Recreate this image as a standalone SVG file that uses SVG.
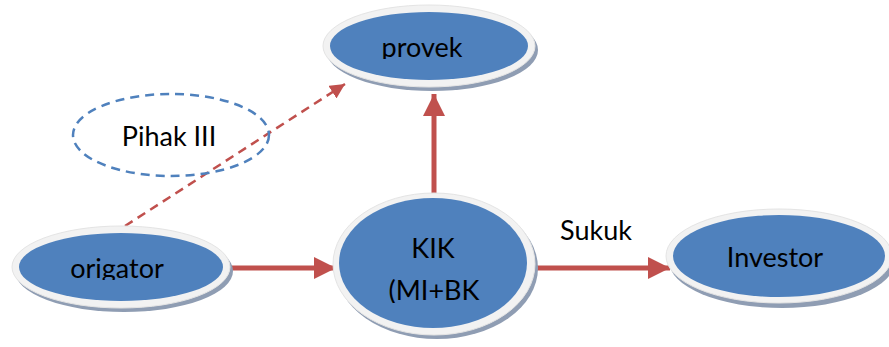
<svg xmlns="http://www.w3.org/2000/svg" width="889" height="347" viewBox="0 0 889 347">
<style>
.shadow{fill:#8f9db3}
.rim{fill:#f2f2f2;stroke:#e4e4e4;stroke-width:1}
.body{fill:#4f81bd}
.lbl{font-family:Lato,"Open Sans","Liberation Sans",sans-serif;font-size:27px;fill:#000;text-anchor:middle}
.solid{stroke:#c0504d;stroke-width:5;fill:none}
.dash{stroke:#c0504d;stroke-width:2.5;stroke-dasharray:9,6;fill:none}
</style>
<defs>
<marker id="ah" viewBox="0 0 10 10" refX="10" refY="5" markerWidth="4.4" markerHeight="4.4" markerUnits="strokeWidth" orient="auto">
<path d="M0,0 L10,5 L0,10 z" fill="#c0504d"/>
</marker>
<marker id="ahs" viewBox="0 0 10 10" refX="10" refY="5" markerWidth="6" markerHeight="6" markerUnits="strokeWidth" orient="auto">
<path d="M0,0 L10,5 L0,10 z" fill="#c0504d"/>
</marker>
<clipPath id="cp1"><rect x="330" y="20" width="200" height="39"/></clipPath>
<clipPath id="cp2"><rect x="20" y="240" width="204" height="40"/></clipPath>
<clipPath id="cp3"><rect x="340" y="270" width="190" height="33"/></clipPath>
</defs>
<g id="connectors">
<path class="solid" d="M229,268 L336,268" marker-end="url(#ah)"/>
<path class="solid" d="M531,268 L670,268" marker-end="url(#ah)"/>
<path class="solid" d="M434,196 L434,94" marker-end="url(#ah)"/>
<path class="dash" d="M125,226 L345,84" marker-end="url(#ahs)"/>
<text class="lbl" x="596" y="240">Sukuk</text>
</g>
<g id="provek">
<ellipse class="shadow" cx="432" cy="50" rx="106" ry="41"/>
<ellipse class="rim" cx="429" cy="46" rx="106" ry="41"/>
<ellipse class="body" cx="429" cy="46" rx="99" ry="34"/>
<text class="lbl" x="422" y="57" clip-path="url(#cp1)">provek</text>
</g>
<g id="pihak">
<ellipse cx="171" cy="135" rx="98" ry="41" fill="none" stroke="#4f81bd" stroke-width="2.5" stroke-dasharray="9,6"/>
<text class="lbl" x="169" y="146">Pihak III</text>
</g>
<g id="origator">
<ellipse class="shadow" cx="124" cy="271" rx="109" ry="41"/>
<ellipse class="rim" cx="121" cy="267" rx="109" ry="41"/>
<ellipse class="body" cx="121" cy="267" rx="102" ry="34"/>
<text class="lbl" x="117" y="278" clip-path="url(#cp2)">origator</text>
</g>
<g id="kik">
<ellipse class="shadow" cx="437" cy="268" rx="101" ry="71"/>
<ellipse class="rim" cx="434" cy="264" rx="101" ry="71"/>
<ellipse class="body" cx="433" cy="263" rx="94" ry="65"/>
<text class="lbl" x="433" y="258">KIK</text>
<text class="lbl" x="434" y="300" clip-path="url(#cp3)">(MI+BK</text>
</g>
<g id="investor">
<ellipse class="shadow" cx="782" cy="261" rx="113" ry="47"/>
<ellipse class="rim" cx="779" cy="256" rx="113" ry="47"/>
<ellipse class="body" cx="779" cy="256" rx="106" ry="41"/>
<text class="lbl" x="775" y="267">Investor</text>
</g>
</svg>
